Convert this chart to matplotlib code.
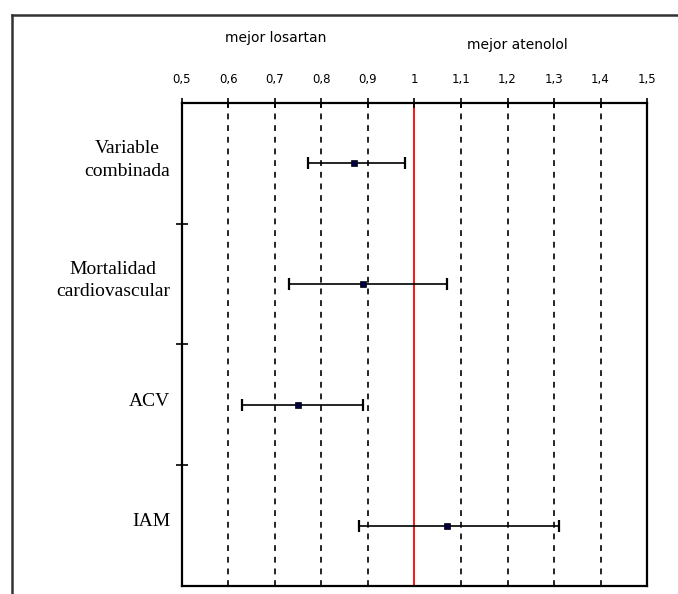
import numpy as np
import matplotlib.pyplot as plt
from matplotlib.lines import Line2D

# datos del forest plot (riesgo relativo, IC 95%)
categorias = ["Variable\ncombinada", "Mortalidad\ncardiovascular", "ACV", "IAM"]
rr = [0.87, 0.89, 0.75, 1.07]
ic_inf = [0.77, 0.73, 0.63, 0.88]
ic_sup = [0.98, 1.07, 0.89, 1.31]
xticks = [0.5, 0.6, 0.7, 0.8, 0.9, 1.0, 1.1, 1.2, 1.3, 1.4, 1.5]
xtick_labels = ["0,5", "0,6", "0,7", "0,8", "0,9", "1", "1,1", "1,2", "1,3", "1,4", "1,5"]

fig = plt.figure(figsize=(6.78, 5.94), dpi=100)
ax = fig.add_axes([0.2684, 0.0135, 0.6859, 0.8131])

n = len(categorias)
ypos = np.arange(n)[::-1]  # primera categoria arriba

# lineas de referencia
for xv in xticks[1:-1]:
    if xv == 1.0:
        ax.axvline(xv, color='red', lw=1.3, zorder=1)
    else:
        ax.axvline(xv, color='black', lw=1.2, ls=(0, (3.5, 3.5)), zorder=1)

# intervalos de confianza
xerr = [np.array(rr) - np.array(ic_inf), np.array(ic_sup) - np.array(rr)]
ax.errorbar(rr, ypos, xerr=xerr, fmt='none', ecolor='black', elinewidth=1.2,
            capsize=4, capthick=1.6, zorder=3)
ax.plot(rr, ypos, ls='none', marker='s', ms=4.5, mfc='#000040', mec='black',
        mew=0.5, zorder=4)

ax.set_xlim(0.5, 1.5)
ax.set_ylim(-0.5, n - 0.5)

ax.xaxis.tick_top()
ax.set_xticks(xticks)
ax.set_xticklabels(xtick_labels, fontsize=8.5, family='DejaVu Sans')
ax.tick_params(axis='x', direction='inout', length=7, width=1.2, pad=9)

ax.set_yticks(np.arange(n - 1) + 0.5)
ax.set_yticklabels([])
ax.tick_params(axis='y', direction='inout', length=9, width=1.2)

for s in ax.spines.values():
    s.set_linewidth(1.6)

for y, lab in zip(ypos, categorias):
    ax.text(-0.025, y + 0.03, lab, transform=ax.get_yaxis_transform(),
            ha='right', va='center', multialignment='center', linespacing=1.45,
            fontsize=14, family='Liberation Serif')

fig.text(276 / 678, 1 - 38 / 594, "mejor losartan", ha='center', va='center',
         fontsize=10, family='DejaVu Sans')
fig.text(517 / 678, 1 - 45 / 594, "mejor atenolol", ha='center', va='center',
         fontsize=10, family='DejaVu Sans')

# marco exterior (solo superior e izquierdo)
fig.add_artist(Line2D([12 / 678, 12 / 678], [0, 1 - 15 / 594], transform=fig.transFigure,
                      color='#333333', lw=1.8))
fig.add_artist(Line2D([12 / 678, 1], [1 - 15 / 594, 1 - 15 / 594], transform=fig.transFigure,
                      color='#333333', lw=1.8))

fig.savefig('out.png', dpi=100)
